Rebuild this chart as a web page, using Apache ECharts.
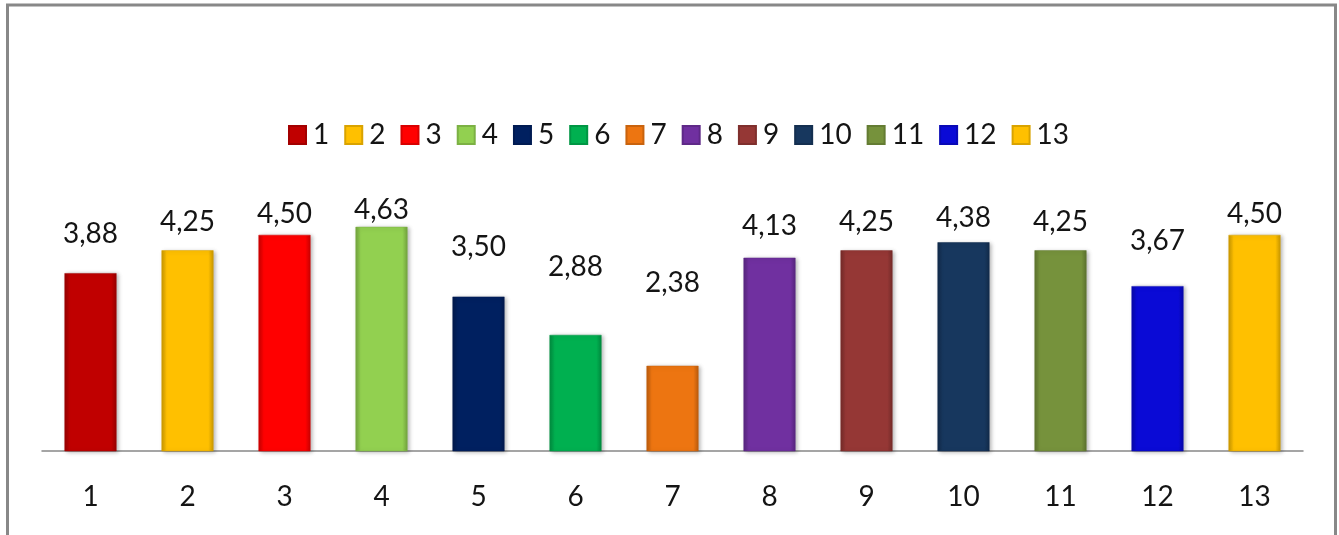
<!DOCTYPE html>
<html>
<head>
<meta charset="utf-8">
<script src="https://cdn.jsdelivr.net/npm/echarts@6/dist/echarts.min.js"></script>
<style>
html,body{margin:0;padding:0;background:#fff;}
#chart{width:1339px;height:535px;}
</style>
</head>
<body>
<div id="chart"></div>
<script>
var categories = ['1','2','3','4','5','6','7','8','9','10','11','12','13'];
var seriesNames = ['1','2','3','4','5','6','7','8','9','10','11','12','13'];
var values = [3.88, 4.25, 4.50, 4.63, 3.50, 2.88, 2.38, 4.13, 4.25, 4.38, 4.25, 3.67, 4.50];
var colors = ['#C00000','#FFC000','#FF0000','#92D050','#002060','#00B050','#ED7511','#7030A0','#953735','#17375E','#76923C','#0A0AD6','#FFC000'];

function shade(hex, f) {
  var r = parseInt(hex.slice(1,3),16), g = parseInt(hex.slice(3,5),16), b = parseInt(hex.slice(5,7),16);
  r = Math.min(255, Math.round(r*f)); g = Math.min(255, Math.round(g*f)); b = Math.min(255, Math.round(b*f));
  return 'rgb(' + r + ',' + g + ',' + b + ')';
}
function fill(hex) {
  return new echarts.graphic.LinearGradient(0, 0, 1, 0, [
    {offset: 0, color: shade(hex, 0.78)},
    {offset: 0.1, color: hex},
    {offset: 0.9, color: hex},
    {offset: 1, color: shade(hex, 0.78)}
  ]);
}

var FONT = 'Lato';
var series = seriesNames.map(function (name, i) {
  var data = categories.map(function (c, j) {
    if (j !== i) return '-';
    var v = values[i];
    return {
      value: v,
      label: { distance: Math.max(2, 151.8 - 29.4 * v - 13) }
    };
  });
  return {
    name: name,
    type: 'bar',
    stack: 'all',
    barWidth: 52,
    data: data,
    itemStyle: {
      color: fill(colors[i]),
      borderColor: shade(colors[i], 0.85),
      borderWidth: 0.5,
      shadowColor: 'rgba(0,0,0,0.3)',
      shadowBlur: 4,
      shadowOffsetX: 2,
      shadowOffsetY: 1
    },
    label: {
      show: true,
      position: 'top',
      fontFamily: FONT,
      fontSize: 28,
      color: '#141414',
      formatter: function (p) { return p.value.toFixed(2).replace('.', ','); }
    },
    emphasis: { disabled: true },
    animation: false
  };
});

var chart = echarts.init(document.getElementById('chart'), null, {renderer: 'canvas'});
chart.setOption({
  animation: false,
  backgroundColor: '#ffffff',
  graphic: [{
    type: 'rect',
    shape: {x: 7.5, y: 5, width: 1328, height: 700},
    style: {fill: 'none', stroke: '#888888', lineWidth: 3},
    silent: true,
    z: 100
  }],
  legend: {
    left: 283,
    top: 116,
    itemWidth: 17,
    itemHeight: 18,
    itemGap: 15,
    icon: 'rect',
    textStyle: {fontFamily: FONT, fontSize: 28, color: '#141414', padding: [0,0,0,2]},
    data: seriesNames
  },
  grid: {left: 42, right: 36, top: 204, bottom: 84, containLabel: false},
  xAxis: {
    type: 'category',
    data: categories,
    axisLine: {show: true, lineStyle: {color: '#888888', width: 1.5}},
    axisTick: {show: false},
    axisLabel: {fontFamily: FONT, fontSize: 28, color: '#141414', margin: 32}
  },
  yAxis: {
    type: 'value',
    min: 1,
    max: 5,
    show: false,
    splitLine: {show: false}
  },
  series: series
});
</script>
</body>
</html>
